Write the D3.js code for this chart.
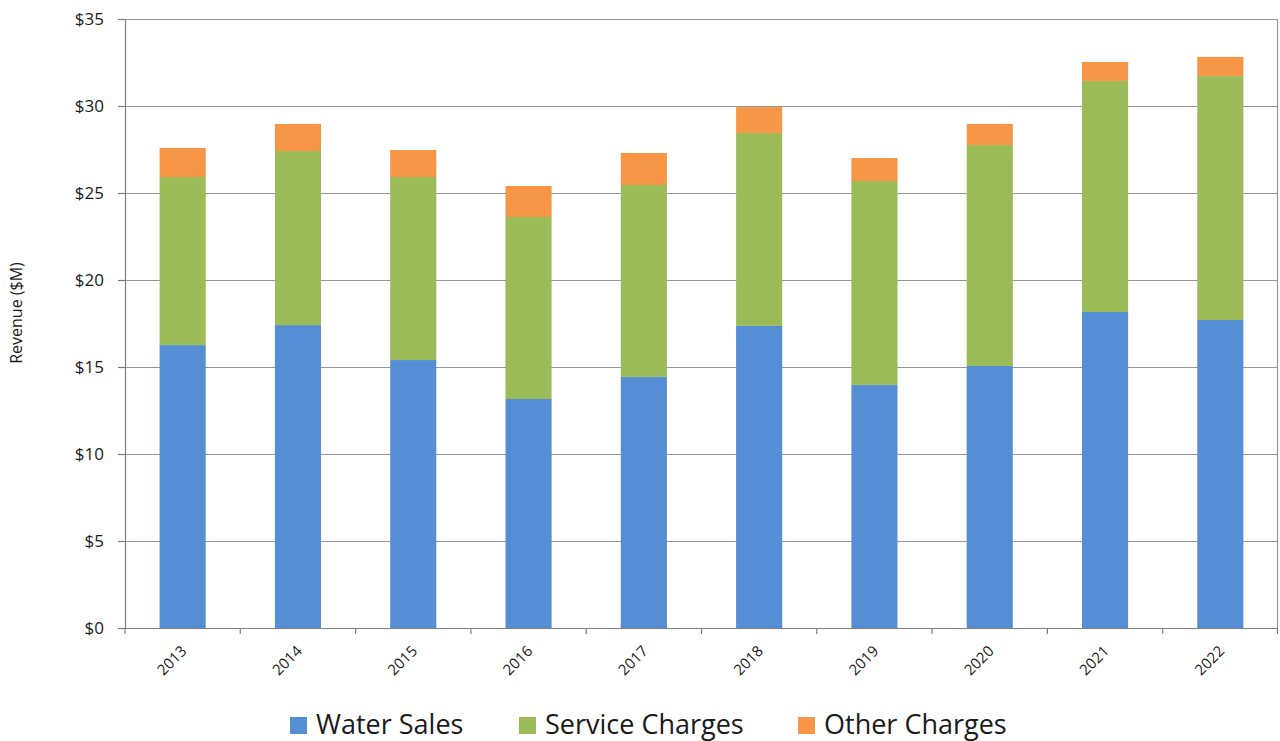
<!DOCTYPE html>
<html>
<head>
<meta charset="utf-8">
<script src="https://cdn.jsdelivr.net/npm/d3@7"></script>
<style>
  html, body { margin: 0; padding: 0; background: #fff; }
  svg text { font-family: "Open Sans", "Noto Sans", sans-serif; fill: #1a1a1a; }
</style>
</head>
<body>
<svg id="chart" width="1280" height="741"></svg>
<script>
// Annual revenue by source, $M
const years = ["2013", "2014", "2015", "2016", "2017", "2018", "2019", "2020", "2021", "2022"];
const waterSales = [16.26, 17.41, 15.40, 13.16, 14.43, 17.36, 13.97, 15.06, 18.16, 17.70];
const serviceCharges = [9.66, 10.00, 10.52, 10.46, 11.03, 11.09, 11.72, 12.70, 13.28, 14.02];
const otherCharges = [1.67, 1.56, 1.55, 1.78, 1.84, 1.49, 1.32, 1.21, 1.09, 1.10];
const seriesNames = ["Water Sales", "Service Charges", "Other Charges"];
const seriesColors = ["#558ed5", "#9bbb59", "#f79646"];
const yTicks = [0, 5, 10, 15, 20, 25, 30, 35];

const svg = d3.select("#chart");
const margin = { left: 125, right: 2, top: 19, bottom: 113 };
const W = 1280, H = 741;
const plotW = W - margin.left - margin.right;
const plotH = H - margin.top - margin.bottom;

const rows = years.map((y, i) => ({
  year: y,
  "Water Sales": waterSales[i],
  "Service Charges": serviceCharges[i],
  "Other Charges": otherCharges[i]
}));
const stacked = d3.stack().keys(seriesNames)(rows);

const x = d3.scaleBand().domain(years).range([0, plotW]).paddingInner(0.6).paddingOuter(0.3);
const xBand = d3.scaleBand().domain(years).range([0, plotW]).padding(0);
const y = d3.scaleLinear().domain([0, 35]).range([plotH, 0]);

const g = svg.append("g").attr("transform", `translate(${margin.left},${margin.top})`);

// Horizontal gridlines
g.append("g")
  .selectAll("line")
  .data(yTicks.filter(t => t > 0))
  .join("line")
  .attr("x1", 0).attr("x2", plotW)
  .attr("y1", d => Math.round(y(d)) + 0.5).attr("y2", d => Math.round(y(d)) + 0.5)
  .attr("stroke", "#969696").attr("stroke-width", 1.2);

// Right border of plot area
g.append("line")
  .attr("x1", plotW - 0.5).attr("x2", plotW - 0.5)
  .attr("y1", 0).attr("y2", plotH)
  .attr("stroke", "#969696").attr("stroke-width", 1.2);

// Stacked bars
g.append("g")
  .selectAll("g")
  .data(stacked)
  .join("g")
  .attr("fill", (d, i) => seriesColors[i])
  .selectAll("rect")
  .data(d => d)
  .join("rect")
  .attr("x", d => x(d.data.year))
  .attr("width", x.bandwidth())
  .attr("y", d => y(d[1]))
  .attr("height", d => y(d[0]) - y(d[1]));

// Y axis
const yAxis = d3.axisLeft(y)
  .tickValues(yTicks)
  .tickSize(7)
  .tickPadding(14)
  .tickFormat(d => "$" + d);
const yg = g.append("g").call(yAxis);
yg.select(".domain").attr("stroke", "#7f7f7f").attr("stroke-width", 1.2);
yg.selectAll(".tick line").attr("stroke", "#7f7f7f").attr("stroke-width", 1.2);
yg.selectAll(".tick text").style("font-size", "17px").attr("fill", "#1a1a1a");

// X axis baseline with ticks at category boundaries
g.append("line")
  .attr("x1", -7).attr("x2", plotW)
  .attr("y1", plotH + 0.5).attr("y2", plotH + 0.5)
  .attr("stroke", "#7f7f7f").attr("stroke-width", 1.2);
const bounds = years.map(yr => xBand(yr)).concat([plotW]);
g.append("g")
  .selectAll("line")
  .data(bounds)
  .join("line")
  .attr("x1", d => Math.min(d, plotW - 0.5)).attr("x2", d => Math.min(d, plotW - 0.5))
  .attr("y1", plotH).attr("y2", plotH + 6)
  .attr("stroke", "#7f7f7f").attr("stroke-width", 1.2);

// Rotated year labels
g.append("g")
  .selectAll("text")
  .data(years)
  .join("text")
  .attr("transform", d => `translate(${xBand(d) + xBand.bandwidth() / 2 + 5},${plotH + 24}) rotate(-45)`)
  .attr("text-anchor", "end")
  .style("font-size", "15px")
  .text(d => d);

// Y axis title
svg.append("text")
  .attr("transform", `translate(22,313) rotate(-90)`)
  .attr("text-anchor", "middle")
  .style("font-size", "16px")
  .text("Revenue ($M)");

// Legend
const legendItems = [
  { name: seriesNames[0], color: seriesColors[0], x: 290 },
  { name: seriesNames[1], color: seriesColors[1], x: 519 },
  { name: seriesNames[2], color: seriesColors[2], x: 798 }
];
const lg = svg.append("g");
legendItems.forEach(it => {
  lg.append("rect")
    .attr("x", it.x).attr("y", 717)
    .attr("width", 17).attr("height", 17)
    .attr("fill", it.color);
  lg.append("text")
    .attr("x", it.x + 26).attr("y", 734)
    .style("font-size", "27px")
    .text(it.name);
});
</script>
</body>
</html>
